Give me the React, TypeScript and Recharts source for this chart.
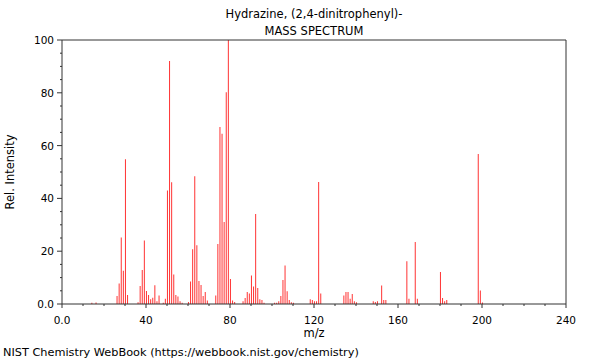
import { BarChart, XAxis, YAxis, Bar, ReferenceLine } from 'recharts';

// m/z values and relative intensities
const mzValues = [
  14, 16,
  26, 27, 28, 29, 30, 31,
  36, 37, 38, 39, 40, 41, 42, 43, 44, 45, 46,
  48, 49, 50, 51, 52, 53, 54, 55, 56, 57,
  60, 61, 62, 63, 64, 65, 66, 67, 68, 69,
  73, 74, 75, 76, 77, 78, 79, 80, 81, 82,
  86, 87, 88, 89, 90, 91, 92, 93, 94, 95, 96,
  101, 102, 103, 104, 105, 106, 107, 108, 109, 110,
  118, 119, 120, 121, 122, 123,
  134, 135, 136, 137, 138, 139, 140,
  148, 149, 150, 152, 153, 154,
  164, 165, 168, 169,
  180, 181, 182, 183,
  198, 199, 200,
];
const intensities = [
  0.5, 0.6,
  3, 7.8, 25.2, 12.6, 54.8, 3.4,
  0.7, 6.8, 12.9, 24.1, 4.9, 3.4, 1.8, 2.4, 7.1, 1, 3.2,
  0.5, 2, 43, 92, 46.1, 11.2, 3.4, 2.8, 1, 0.5,
  0.8, 8.5, 20.7, 48.4, 22.3, 8.7, 7.2, 3, 4.5, 1.3,
  3.2, 22.7, 67, 64.5, 31.1, 80.2, 100, 9.5, 1.3, 0.8,
  1, 2.3, 4.5, 4, 10.8, 6.6, 34.1, 6.1, 1.8, 1.5, 0.5,
  0.5, 0.5, 1, 3, 9.1, 14.6, 4.8, 1.5, 0.7, 0.5,
  1.8, 1.5, 1, 1, 46.2, 4,
  3.2, 4.5, 4.5, 2, 3.8, 1, 0.7,
  1, 0.8, 1, 7, 1.5, 1.5,
  16.2, 2, 23.5, 2,
  12.1, 2.3, 1, 1.5,
  56.8, 5.1, 0.6,
];

const xTicks = Array.from({ length: 25 }, (_, i) => i * 10);
const yTicks = Array.from({ length: 21 }, (_, i) => i * 5);

const data = mzValues.map((mz, i) => ({ mz, intensity: intensities[i] }));

const FONT = '"DejaVu Sans", sans-serif';
const AXIS = '#333';

function XTick(props: any) {
  const { x, y, payload } = props;
  const v = payload.value;
  const major = v % 40 === 0;
  return (
    <g>
      <line x1={x} x2={x} y1={y} y2={y + (major ? 4 : 2)} stroke={AXIS} />
      {major && (
        <text x={x} y={y + 20} textAnchor="middle" fontSize={10.5} fontFamily={FONT} fill="#000">
          {v === 0 ? '0.0' : v}
        </text>
      )}
    </g>
  );
}

function YTick(props: any) {
  const { x, y, payload } = props;
  const v = payload.value;
  const major = v % 20 === 0;
  return (
    <g>
      <line x1={x - (major ? 5 : 2)} x2={x} y1={y} y2={y} stroke={AXIS} />
      {major && (
        <text x={x - 8} y={y + 4} textAnchor="end" fontSize={10.5} fontFamily={FONT} fill="#000">
          {v === 0 ? '0.0' : v}
        </text>
      )}
    </g>
  );
}

const textStyle: React.CSSProperties = {
  position: 'absolute',
  fontFamily: FONT,
  fontSize: 11.5,
  color: '#000',
  whiteSpace: 'nowrap',
  lineHeight: '14px',
};

export default function App() {
  return (
    <div style={{ position: 'absolute', left: 0, top: 0, width: 600, height: 360, background: '#fff' }}>
      <BarChart
        width={600}
        height={360}
        data={data}
        margin={{ top: 40, right: 34, bottom: 26, left: 22 }}
      >
        <XAxis
          dataKey="mz"
          type="number"
          domain={[0, 240]}
          ticks={xTicks}
          interval={0}
          tickSize={0}
          tickMargin={0}
          tickLine={false}
          tick={<XTick />}
          height={30}
          stroke={AXIS}
        />
        <YAxis
          type="number"
          domain={[0, 100]}
          ticks={yTicks}
          interval={0}
          tickSize={0}
          tickMargin={0}
          tickLine={false}
          tick={<YTick />}
          width={40}
          stroke={AXIS}
        />
        <ReferenceLine y={100} stroke={AXIS} />
        <ReferenceLine x={240} stroke={AXIS} />
        <Bar dataKey="intensity" fill="#ff3333" barSize={1} isAnimationActive={false} />
      </BarChart>
      <div style={{ ...textStyle, left: 0, width: 628, top: 7, textAlign: 'center' }}>
        Hydrazine, (2,4-dinitrophenyl)-
      </div>
      <div style={{ ...textStyle, left: 0, width: 628, top: 23.5, textAlign: 'center' }}>
        MASS SPECTRUM
      </div>
      <div style={{ ...textStyle, left: 0, width: 628, top: 326, textAlign: 'center' }}>m/z</div>
      <div
        style={{
          ...textStyle,
          left: 10,
          top: 172,
          transform: 'translate(-50%, -50%) rotate(-90deg)',
        }}
      >
        Rel. Intensity
      </div>
      <div style={{ ...textStyle, left: 3, top: 346, fontSize: 11.3 }}>
        NIST Chemistry WebBook (https://webbook.nist.gov/chemistry)
      </div>
    </div>
  );
}
